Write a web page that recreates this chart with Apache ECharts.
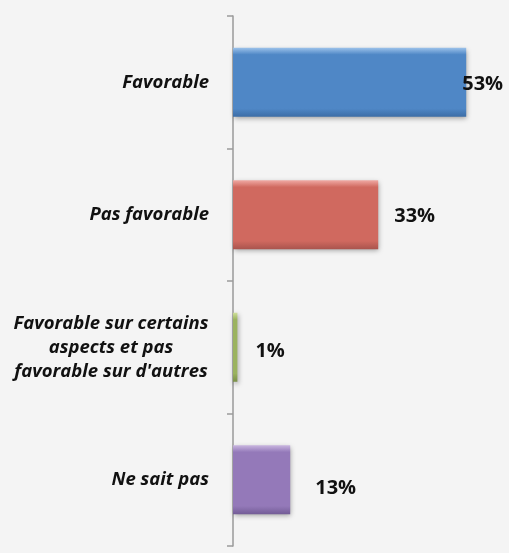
<!DOCTYPE html>
<html>
<head>
<meta charset="utf-8">
<script src="https://cdn.jsdelivr.net/npm/echarts@6/dist/echarts.min.js"></script>
<style>
html,body{margin:0;padding:0;background:#f4f4f4;}
#chart{width:509px;height:553px;}
</style>
</head>
<body>
<div id="chart"></div>
<script>
var categories = ["Favorable", "Pas favorable", "Favorable sur certains\naspects et pas\nfavorable sur d'autres", "Ne sait pas"];
var values = [53, 33, 1, 13];
var valueLabels = ["53%", "33%", "1%", "13%"];

var palette = [
  {top: "#9cc2ea", mid: "#4f87c6", bot: "#3c6da6"},
  {top: "#f0aaa4", mid: "#d0695f", bot: "#a9544d"},
  {top: "#cfe09a", mid: "#9bb35f", bot: "#7a8f48"},
  {top: "#c9b6e0", mid: "#9479b9", bot: "#735c96"}
];
var labelOffsets = [[-4, 2], [16, 2], [18, 4], [25, 9]];

function grad(p) {
  return new echarts.graphic.LinearGradient(0, 0, 0, 1, [
    {offset: 0, color: p.top},
    {offset: 0.1, color: p.mid},
    {offset: 0.88, color: p.mid},
    {offset: 1, color: p.bot}
  ]);
}

var data = values.map(function (v, i) {
  return {
    value: v,
    itemStyle: {color: grad(palette[i])},
    label: {offset: labelOffsets[i]}
  };
});

var catFont = {
  color: '#111',
  fontFamily: 'Open Sans',
  fontWeight: 'bold',
  fontStyle: 'italic',
  fontSize: 18.5,
  lineHeight: 24
};

var chart = echarts.init(document.getElementById('chart'));
chart.setOption({
  backgroundColor: '#f4f4f4',
  animation: false,
  grid: {left: 233, right: 12, top: 16, bottom: 7},
  xAxis: {type: 'value', min: 0, max: 60, show: false},
  yAxis: {
    type: 'category',
    data: categories,
    inverse: true,
    axisLine: {show: true, lineStyle: {color: '#9a9a9a', width: 1.5}},
    axisTick: {show: true, length: 6, lineStyle: {color: '#9a9a9a', width: 1.5}},
    axisLabel: Object.assign({
      margin: 24,
      align: 'right',
      formatter: function (v) {
        if (v.indexOf('\n') < 0) return v;
        return v.split('\n').map(function (s) { return '{c|' + s + '}'; }).join('\n');
      },
      rich: {
        c: Object.assign({width: 196, align: 'center'}, catFont)
      }
    }, catFont)
  },
  series: [{
    type: 'bar',
    data: data,
    barWidth: 69,
    itemStyle: {
      shadowColor: 'rgba(0,0,0,0.35)',
      shadowBlur: 5,
      shadowOffsetX: 1,
      shadowOffsetY: 2
    },
    label: {
      show: true,
      position: 'right',
      distance: 0,
      color: '#111',
      fontFamily: 'Open Sans',
      fontWeight: 'bold',
      fontSize: 20,
      formatter: function (p) { return valueLabels[p.dataIndex]; }
    }
  }]
});
</script>
</body>
</html>
